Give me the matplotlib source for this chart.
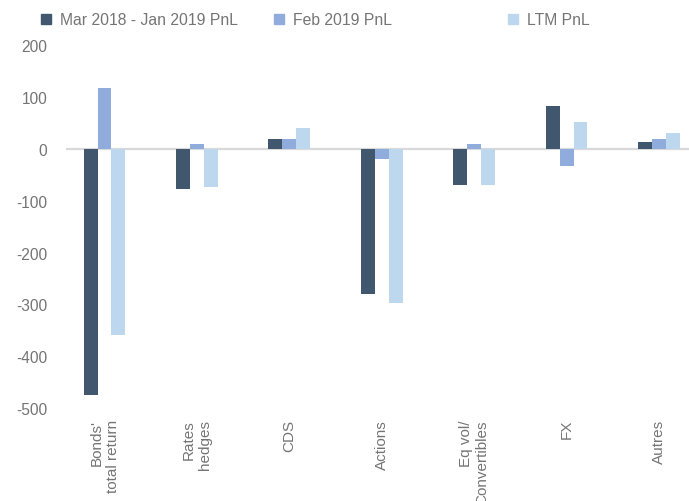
import matplotlib
matplotlib.use("Agg")
import matplotlib.pyplot as plt
import numpy as np
from matplotlib.lines import Line2D

categories = ["Bonds'\ntotal return", "Rates\nhedges", "CDS", "Actions",
              "Eq vol/\nConvertibles", "FX", "Autres"]
series_names = ["Mar 2018 - Jan 2019 PnL", "Feb 2019 PnL", "LTM PnL"]
mar18_jan19 = [-474, -77, 20, -279, -70, 83, 13]
feb19 = [118, 9, 20, -20, 9, -32, 20]
ltm = [-359, -74, 40, -298, -70, 52, 32]
yticks = [200, 100, 0, -100, -200, -300, -400, -500]

colors = ["#41576D", "#8FACDC", "#BDD7EE"]
text_color = "#747474"
plt.rcParams['font.family'] = ['Liberation Sans', 'DejaVu Sans']

fig = plt.figure(figsize=(6.89, 5.02), dpi=100)
ax = fig.add_axes([66/689, 1-409/502, (689-66)/689, (409-46.5)/502])

x = np.arange(len(categories))
w = 0.151
for i, (vals, col) in enumerate(zip([mar18_jan19, feb19, ltm], colors)):
    ax.bar(x + (i-1)*w, vals, width=w, color=col, zorder=3, linewidth=0)

ax.axhline(0, color="#D9D9D9", lw=1.6, zorder=2)
ax.set_ylim(-500, 200)
ax.set_xlim(-0.4166, 6.325)
ax.set_yticks(yticks)
ax.set_yticklabels([str(v) for v in yticks])
ax.set_xticks(x)
ax.set_xticklabels(categories, rotation=90, va='top', ha='center',
                   multialignment='right')
ax.tick_params(axis='y', length=0, pad=13.5, labelsize=11.2, labelcolor=text_color)
ax.tick_params(axis='x', length=0, pad=8, labelsize=11, labelcolor=text_color)
for s in ax.spines.values():
    s.set_visible(False)

legend_x = [41, 274, 508]
for name, col, lx in zip(series_names, colors, legend_x):
    h = Line2D([], [], marker='s', ls='', color=col, markersize=6.6)
    fig.legend(handles=[h], labels=[name], loc='center left',
               bbox_to_anchor=(lx/689, 1-20.5/502), frameon=False,
               borderpad=0, borderaxespad=0, handlelength=0.7,
               handletextpad=0.5, fontsize=11.3, labelcolor=text_color)

fig.savefig("out.png", dpi=100)
